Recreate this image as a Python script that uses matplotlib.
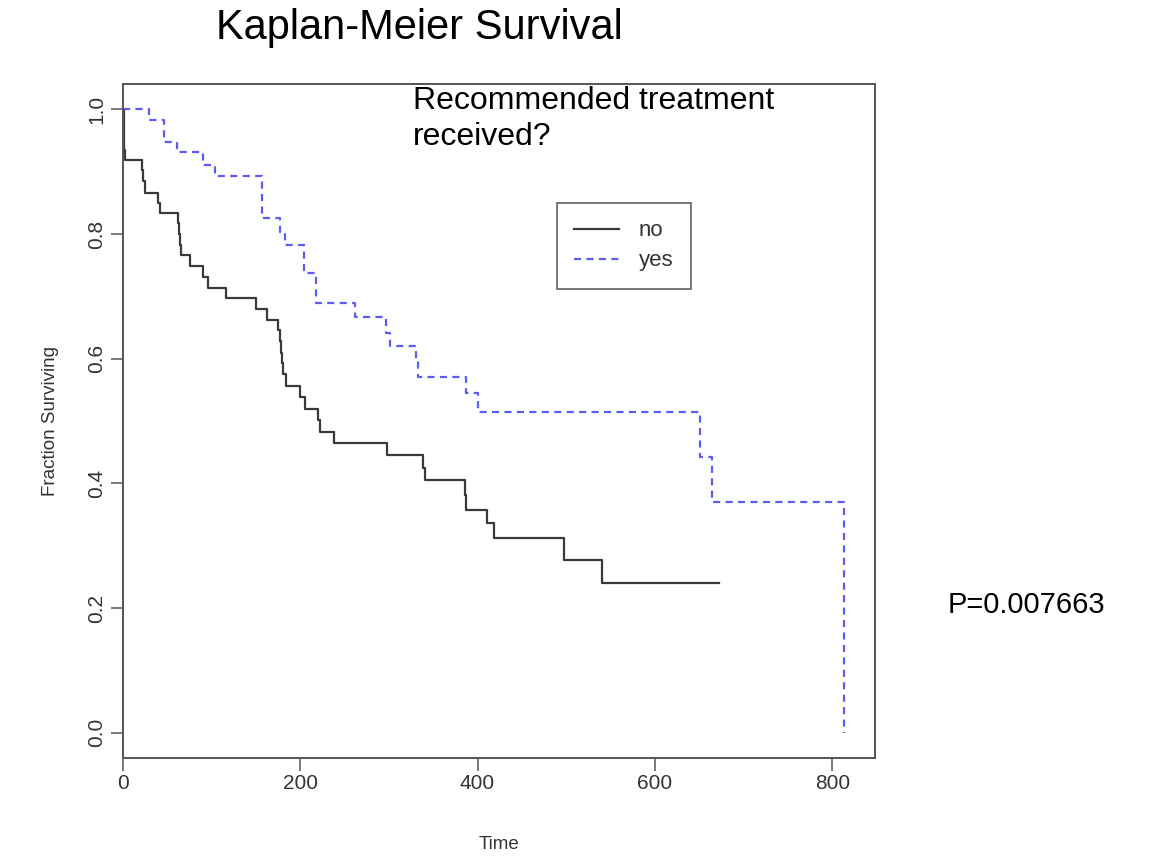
import matplotlib
matplotlib.use('Agg')
import matplotlib.pyplot as plt

# Kaplan-Meier step data (time, fraction surviving)
no_time = [0, 1, 3, 21.5, 22.5, 25, 40, 42, 62.6, 63.5, 64.5, 66, 76, 90.8, 96.4, 116.5,
           150.5, 163, 175.3, 177, 178, 179.5, 181, 184, 199.5, 205, 220, 222, 238.5,
           297.5, 338, 341, 385.5, 387, 411, 419, 498, 540, 672]
no_surv = [1.0, 0.934, 0.918, 0.902, 0.885, 0.866, 0.849, 0.833, 0.817, 0.800, 0.783,
           0.766, 0.748, 0.731, 0.714, 0.697, 0.679, 0.662, 0.646, 0.628, 0.609, 0.593,
           0.575, 0.556, 0.539, 0.520, 0.502, 0.483, 0.465, 0.446, 0.424, 0.405, 0.381,
           0.358, 0.336, 0.312, 0.277, 0.240, 0.240]

yes_time = [0, 30, 47, 61.5, 90.5, 103.6, 157, 177, 183, 204.5, 218, 262, 297, 301,
            331, 333, 387, 401, 651, 664, 813.5]
yes_surv = [1.0, 0.983, 0.948, 0.931, 0.911, 0.893, 0.825, 0.804, 0.782, 0.737, 0.690,
            0.667, 0.641, 0.620, 0.598, 0.571, 0.545, 0.514, 0.443, 0.370, 0.0]

x_ticks = [0, 200, 400, 600, 800]
y_ticks = [0.0, 0.2, 0.4, 0.6, 0.8, 1.0]
group_labels = ['no', 'yes']

W, H = 1159, 864
fig = plt.figure(figsize=(W / 100, H / 100), dpi=100)
ax = fig.add_axes([122.7 / W, 1 - 757.7 / H, (875 - 122.7) / W, (757.7 - 84.4) / H])

sans = ['Liberation Sans', 'DejaVu Sans']

ax.plot(no_time, no_surv, drawstyle='steps-post', color='#3a3a3a', lw=1.6,
        label=group_labels[0])
ax.plot(yes_time, yes_surv, drawstyle='steps-post', color='#5c5cf2', lw=1.6,
        linestyle=(0, (3.2, 2.4)), label=group_labels[1])

ax.set_xlim(0, 848)
ax.set_ylim(-0.04, 1.04)
ax.set_xticks(x_ticks)
ax.set_yticks(y_ticks)
ax.set_xticklabels([str(v) for v in x_ticks], family=sans, fontsize=15, color='#333333')
ax.set_yticklabels(['%.1f' % v for v in y_ticks], family=sans, fontsize=15,
                   color='#333333', rotation=90, va='center')
ax.tick_params(direction='out', length=9, width=1.1, color='#555555')
ax.tick_params(axis='x', pad=2.5)
ax.tick_params(axis='y', pad=3)
for s in ax.spines.values():
    s.set_color('#555555')
    s.set_linewidth(1.4)

ax.set_xlabel('Time', family=sans, fontsize=13.5, color='#333333', labelpad=31)
ax.set_ylabel('Fraction Surviving', family=sans, fontsize=13.5, color='#333333',
              labelpad=20)

leg = ax.legend(loc='upper left', bbox_to_anchor=(556.7 / W, 1 - 202.7 / H),
                bbox_transform=fig.transFigure, prop={'family': sans, 'size': 16},
                frameon=True, fancybox=False, borderpad=0.8, handlelength=2.0,
                handletextpad=0.9, labelspacing=0.4, borderaxespad=0)
leg.get_frame().set_edgecolor('#555555')
leg.get_frame().set_linewidth(1.4)
for t in leg.get_texts():
    t.set_color('#333333')

fig.text(419 / W, 1 - 28 / H, 'Kaplan-Meier Survival', family=sans, fontsize=30,
         ha='center', va='center')
fig.text(413 / W, 1 - 86 / H, 'Recommended treatment\nreceived?', family=sans,
         fontsize=23, ha='left', va='top', linespacing=1.27)
fig.text(948 / W, 1 - 605 / H, 'P=0.007663', family=sans, fontsize=21,
         ha='left', va='center')

fig.savefig('out.png', dpi=100)
